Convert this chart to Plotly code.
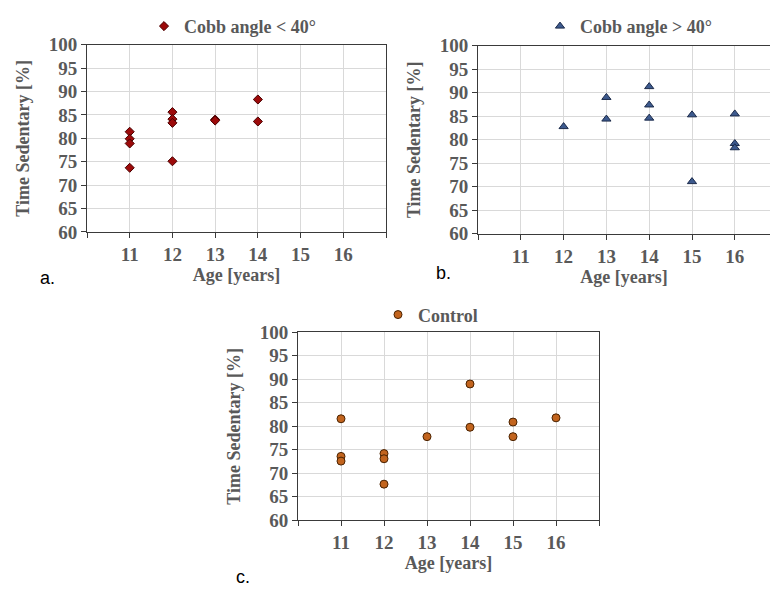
import plotly.graph_objects as go

# ---- data ----
age_a = [11, 11, 11, 11, 12, 12, 12, 12, 13, 13, 14, 14]
sed_a = [81.4, 79.9, 78.9, 73.7, 85.6, 84.1, 83.3, 75.1, 84.0, 83.8, 88.3, 83.6]

age_b = [12, 13, 13, 14, 14, 14, 15, 15, 16, 16, 16]
sed_b = [82.8, 89.0, 84.4, 91.3, 87.4, 84.6, 85.3, 71.1, 85.5, 79.2, 78.3]

age_c = [11, 11, 11, 12, 12, 12, 13, 14, 14, 15, 15, 16]
sed_c = [81.6, 73.6, 72.6, 74.2, 73.1, 67.7, 77.8, 89.0, 79.8, 80.9, 77.8, 81.8]

name_a = "Cobb angle &lt; 40°"
name_b = "Cobb angle &gt; 40°"
name_c = "Control"

x_tickvals = [10, 11, 12, 13, 14, 15, 16, 17]
x_ticktext = ["", "11", "12", "13", "14", "15", "16", ""]
y_tickvals = [60, 65, 70, 75, 80, 85, 90, 95, 100]

x_title = "Age [years]"
y_title = "Time Sedentary [%]"
panel_labels = ["a.", "b.", "c."]

# ---- style ----
W, H = 770, 596
SERIF = "Liberation Serif"
GRAY = "#595959"
GRID = "#d9d9d9"
AXIS = "#3a3a3a"
FONT = dict(family=SERIF, size=18, color=GRAY, weight="bold")
TICKFONT = dict(family=SERIF, size=19, color=GRAY, weight="bold")

fig = go.Figure()

fig.add_trace(go.Scatter(x=age_a, y=sed_a, mode="markers", name=name_a,
                         xaxis="x", yaxis="y", legend="legend",
                         marker=dict(symbol="diamond", size=7, color="#9c0a0a",
                                     line=dict(color="#4a0000", width=1))))
fig.add_trace(go.Scatter(x=age_b, y=sed_b, mode="markers", name=name_b,
                         xaxis="x2", yaxis="y2", legend="legend2",
                         marker=dict(symbol="triangle-up", size=8, color="#3d5a8e",
                                     line=dict(color="#1b2a4a", width=1))))
fig.add_trace(go.Scatter(x=age_c, y=sed_c, mode="markers", name=name_c,
                         xaxis="x3", yaxis="y3", legend="legend3",
                         marker=dict(symbol="circle", size=8, color="#c2641e",
                                     line=dict(color="#4a2200", width=1))))


def px_x(p):
    return p / W


def px_y(p):
    return 1 - p / H


def xaxis(dom, rng, anchor):
    return dict(domain=dom, range=rng, anchor=anchor,
                tickmode="array", tickvals=x_tickvals, ticktext=x_ticktext,
                ticks="outside", ticklen=5, tickcolor=AXIS, tickwidth=1,
                showgrid=True, gridcolor=GRID, gridwidth=1,
                showline=True, linecolor=AXIS, linewidth=1, mirror=True,
                zeroline=False,
                tickfont=TICKFONT,
                title=dict(text=x_title, standoff=3, font=FONT))


def yaxis(dom, anchor, mirror=True):
    return dict(domain=dom, range=[60, 100], anchor=anchor,
                tickmode="array", tickvals=y_tickvals,
                ticks="outside", ticklen=5, tickcolor=AXIS, tickwidth=1,
                showgrid=True, gridcolor=GRID, gridwidth=1,
                showline=True, linecolor=AXIS, linewidth=1, mirror=mirror,
                zeroline=False,
                tickfont=TICKFONT,
                title=dict(text=y_title, standoff=14, font=FONT))


# panel a
xa_dom = [px_x(87), px_x(386)]
ya_dom = [px_y(230), px_y(36)]
# panel b (cut at right image edge)
xb_dom = [px_x(478), 1.0]
yb_dom = [px_y(232), px_y(37)]
xb_max = 10 + (770 - 478) / 42.8
# panel c
xc_dom = [px_x(298), px_x(599)]
yc_dom = [px_y(529), px_y(334)]


def legend(xpix, ypix):
    return dict(x=px_x(xpix), y=px_y(ypix), xanchor="left", yanchor="middle",
                xref="paper", yref="paper", bgcolor="rgba(0,0,0,0)",
                itemwidth=30, borderwidth=0, font=FONT)


fig.update_layout(
    width=W, height=H,
    margin=dict(l=0, r=0, t=0, b=0),
    font=FONT,
    paper_bgcolor="white", plot_bgcolor="white",
    showlegend=True,
    xaxis=xaxis(xa_dom, [10, 17], "y"),
    yaxis=yaxis(ya_dom, "x"),
    xaxis2=xaxis(xb_dom, [10, xb_max], "y2"),
    yaxis2=yaxis(yb_dom, "x2", mirror=False),
    xaxis3=xaxis(xc_dom, [10, 17], "y3"),
    yaxis3=yaxis(yc_dom, "x3"),
    legend=legend(144, 17),
    legend2=legend(540, 17),
    legend3=legend(378, 316),
)

for lab, (xp, yp) in zip(panel_labels, [(47, 278), (443, 273), (243, 588)]):
    fig.add_annotation(text=lab, x=px_x(xp), y=px_y(yp), xref="paper", yref="paper",
                       showarrow=False, xanchor="center", yanchor="middle",
                       font=dict(family="Liberation Sans", size=18, color="black",
                                 weight="normal"))

fig.write_html("out.html", config={"displayModeBar": False},
               post_script="document.body.style.margin='0';")
